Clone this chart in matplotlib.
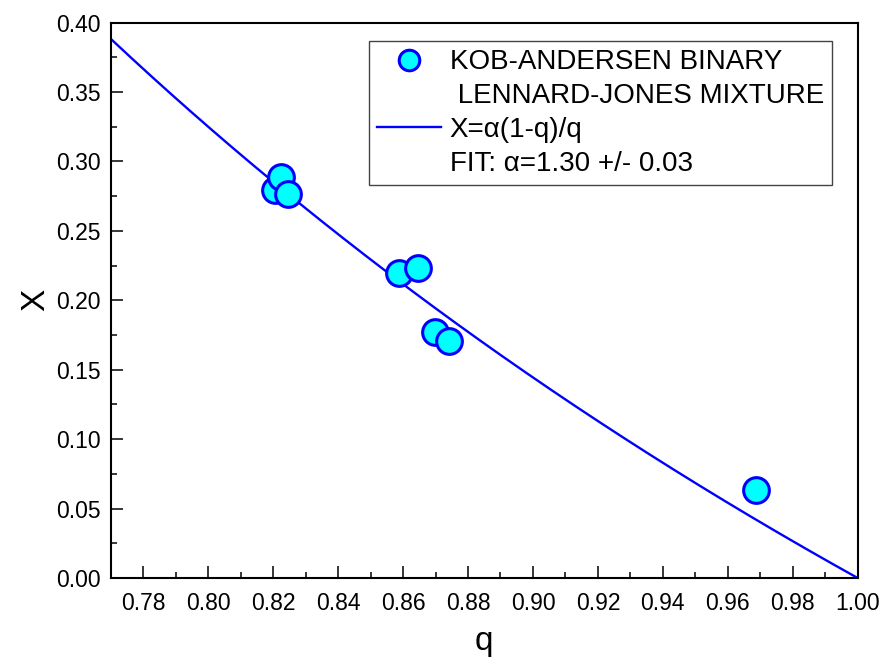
import numpy as np
import matplotlib
matplotlib.use("Agg")
import matplotlib.pyplot as plt
from matplotlib.ticker import MultipleLocator

plt.rcParams['font.family'] = ['Liberation Sans', 'DejaVu Sans']

# Kob-Andersen binary LJ mixture: q vs X
q_data = [0.8205, 0.8224, 0.8245, 0.8587, 0.8645, 0.8698, 0.8741, 0.9688]
x_data = [0.2795, 0.2890, 0.2765, 0.2195, 0.2230, 0.1775, 0.1710, 0.0635]

alpha_fit = 1.30
q_min, q_max = 0.77, 1.00
x_min, x_max = 0.0, 0.40

xtick_labels = ["0.78", "0.80", "0.82", "0.84", "0.86", "0.88", "0.90",
                "0.92", "0.94", "0.96", "0.98", "1.00"]
ytick_labels = ["0.00", "0.05", "0.10", "0.15", "0.20", "0.25", "0.30",
                "0.35", "0.40"]

fig = plt.figure(figsize=(8.81, 6.61), dpi=100)
ax = fig.add_axes([0.1258, 0.1256, 0.9735 - 0.1258, 0.9657 - 0.1256])

# fit curve X = alpha (1-q)/q
q = np.linspace(q_min, q_max, 300)
ax.plot(q, alpha_fit * (1 - q) / q, color='#0000ff', lw=1.7, zorder=2)

ax.plot(q_data, x_data, 'o', ms=18.5, mfc='#00ffff', mec='#0000ff',
        mew=2.2, zorder=3, linestyle='none')

ax.set_xlim(q_min, q_max)
ax.set_ylim(x_min, x_max)
ax.set_xticks([float(t) for t in xtick_labels])
ax.set_xticklabels(xtick_labels)
ax.set_yticks([float(t) for t in ytick_labels])
ax.set_yticklabels(ytick_labels)
ax.xaxis.set_minor_locator(MultipleLocator(0.01))
ax.yaxis.set_minor_locator(MultipleLocator(0.025))
ax.tick_params(which='both', direction='in', top=False, right=False, width=1.1)
ax.tick_params(which='major', length=8.5, labelsize=16.5, pad=7)
ax.tick_params(axis='x', which='major', pad=10)
ax.tick_params(which='minor', length=4.5)
for s in ax.spines.values():
    s.set_linewidth(1.5)

ax.set_xlabel("q", fontsize=24, labelpad=8)
ax.set_ylabel("X", fontsize=24, labelpad=4)

# legend: marker on first line, curve on third line
h_line, h_pts = ax.get_lines()
blank1, = ax.plot([], [], ' ')
blank2, = ax.plot([], [], ' ')
leg = ax.legend([h_pts, blank1, h_line, blank2],
                ["KOB-ANDERSEN BINARY", " LENNARD-JONES MIXTURE",
                 "X=α(1-q)/q", "FIT: α=1.30 +/- 0.03"],
                loc='upper left', bbox_to_anchor=(369 / 881, 1 - 41 / 661),
                bbox_transform=fig.transFigure, borderaxespad=0,
                fontsize=20, markerscale=0.8, handlelength=2.3,
                handletextpad=0.3, labelspacing=0.28, borderpad=0.3,
                fancybox=False, framealpha=1, edgecolor='#444444')
leg.get_frame().set_linewidth(1.0)

fig.savefig("out.png", dpi=100)
